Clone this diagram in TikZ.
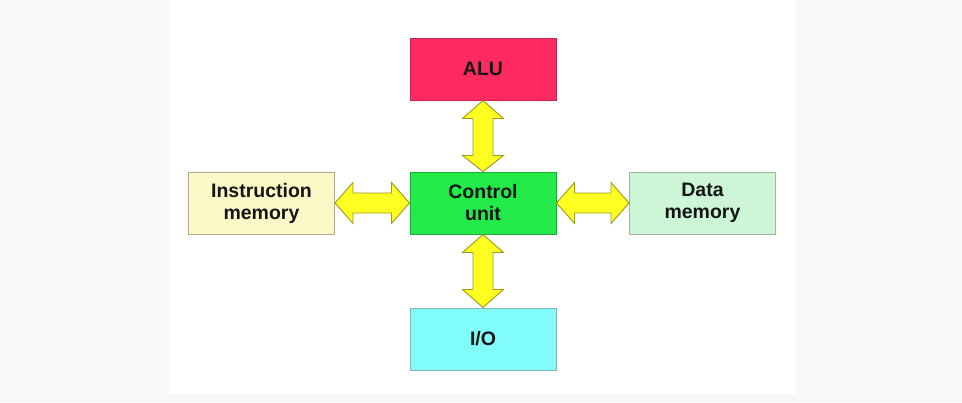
\documentclass[tikz,border=0pt]{standalone}
\usepackage{fontspec}
\setmainfont{Liberation Sans}
\usetikzlibrary{calc}
\definecolor{bggray}{HTML}{F8F8F8}
\definecolor{alufill}{HTML}{FF2A5F}
\definecolor{aludraw}{HTML}{C0284C}
\definecolor{cufill}{HTML}{22EA48}
\definecolor{cudraw}{HTML}{20A838}
\definecolor{imfill}{HTML}{FCF8C8}
\definecolor{imdraw}{HTML}{B0AA88}
\definecolor{dmfill}{HTML}{CCF6D6}
\definecolor{dmdraw}{HTML}{A0B4A4}
\definecolor{iofill}{HTML}{80FCFA}
\definecolor{iodraw}{HTML}{8AB4B4}
\definecolor{arrfill}{HTML}{FFFF22}
\definecolor{arrdraw}{HTML}{9A9A1C}
\definecolor{txt}{HTML}{151515}
\tikzset{
  unitbox/.style={rectangle, minimum width=146pt, minimum height=62pt, inner sep=0pt,
    line width=1pt, align=center, text=txt, font=\fontsize{19.5}{22}\selectfont\bfseries},
  fatarrow/.style={fill=arrfill, draw=arrdraw, line width=0.9pt, line join=miter}
}
\begin{document}
\begin{tikzpicture}[x=1pt,y=-1pt]
  \fill[bggray] (0,0) rectangle (962,402);
  \fill[white] (170,0) rectangle (796,394);
  \useasboundingbox (0,0) rectangle (962,402);

  \node[unitbox, fill=alufill, draw=aludraw] (alu) at (483,69) {ALU};
  \node[unitbox, fill=cufill, draw=cudraw] (cu) at (483,203) {Control\\unit};
  \node[unitbox, fill=imfill, draw=imdraw] (im) at (261.5,203) {Instruction\\memory};
  \node[unitbox, fill=dmfill, draw=dmdraw] (dm) at (702.5,203) {Data\\memory};
  \node[unitbox, fill=iofill, draw=iodraw] (io) at (483,339) {I/O};

  % vertical arrows
  \draw[fatarrow] (alu.south) -- ($(alu.south)+(20.5,18)$) -- ($(alu.south)+(10,18)$)
    -- ($(cu.north)+(10,-16)$) -- ($(cu.north)+(20.5,-16)$) -- (cu.north)
    -- ($(cu.north)+(-20.5,-16)$) -- ($(cu.north)+(-10,-16)$)
    -- ($(alu.south)+(-10,18)$) -- ($(alu.south)+(-20.5,18)$) -- cycle;
  \draw[fatarrow] (cu.south) -- ($(cu.south)+(20.5,18)$) -- ($(cu.south)+(10,18)$)
    -- ($(io.north)+(10,-18)$) -- ($(io.north)+(20.5,-18)$) -- (io.north)
    -- ($(io.north)+(-20.5,-18)$) -- ($(io.north)+(-10,-18)$)
    -- ($(cu.south)+(-10,18)$) -- ($(cu.south)+(-20.5,18)$) -- cycle;
  % horizontal arrows
  \draw[fatarrow] (im.east) -- ($(im.east)+(18,-20.5)$) -- ($(im.east)+(18,-10)$)
    -- ($(cu.west)+(-18,-10)$) -- ($(cu.west)+(-18,-20.5)$) -- (cu.west)
    -- ($(cu.west)+(-18,20.5)$) -- ($(cu.west)+(-18,10)$)
    -- ($(im.east)+(18,10)$) -- ($(im.east)+(18,20.5)$) -- cycle;
  \draw[fatarrow] (cu.east) -- ($(cu.east)+(18,-20.5)$) -- ($(cu.east)+(18,-10)$)
    -- ($(dm.west)+(-18,-10)$) -- ($(dm.west)+(-18,-20.5)$) -- (dm.west)
    -- ($(dm.west)+(-18,20.5)$) -- ($(dm.west)+(-18,10)$)
    -- ($(cu.east)+(18,10)$) -- ($(cu.east)+(18,20.5)$) -- cycle;
\end{tikzpicture}
\end{document}
